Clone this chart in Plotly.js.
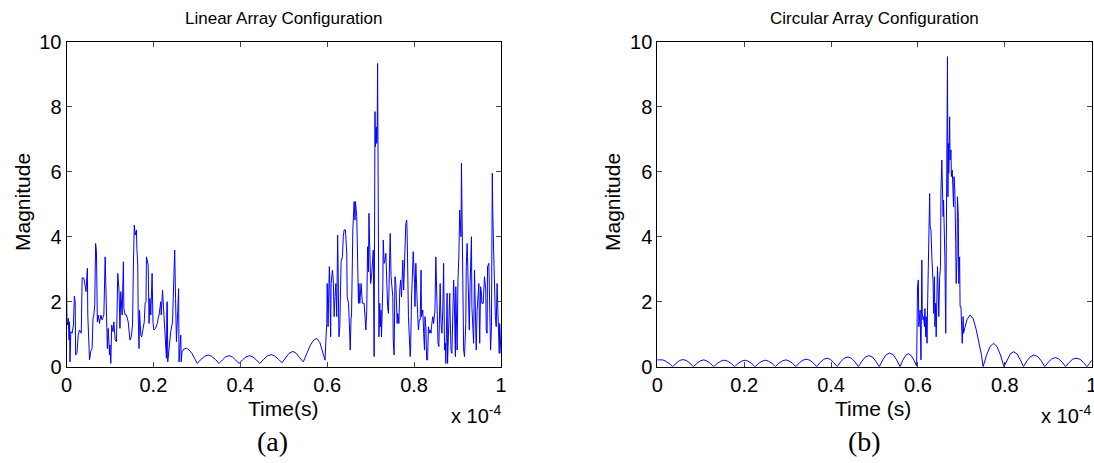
<!DOCTYPE html>
<html>
<head>
<meta charset="utf-8">
<script src="https://cdn.plot.ly/plotly-3.0.1.min.js"></script>
<style>html,body{margin:0;padding:0;background:#fff;}#chart{width:1094px;height:463px;}</style>
</head>
<body>
<div id="chart"></div>
<script>
// Time in units of 1e-4 s
const linearTime = [
0.000,0.001,0.003,0.004,0.006,0.007,0.008,0.010,0.013,0.016,0.018,0.020,0.021,0.024,0.027,0.030,0.034,0.036,0.040,0.043,
0.045,0.048,0.049,0.053,0.056,0.059,0.061,0.063,0.065,0.067,0.069,0.071,0.073,0.076,0.079,0.082,0.086,0.089,0.092,0.094,
0.096,0.099,0.100,0.102,0.104,0.107,0.109,0.112,0.115,0.118,0.121,0.123,0.125,0.128,0.131,0.132,0.135,0.138,0.142,0.144,
0.146,0.149,0.152,0.154,0.156,0.158,0.161,0.162,0.164,0.165,0.167,0.168,0.171,0.173,0.177,0.179,0.181,0.183,0.184,0.187,
0.188,0.190,0.192,0.194,0.197,0.199,0.201,0.205,0.209,0.211,0.213,0.217,0.218,0.221,0.223,0.225,0.227,0.230,0.231,0.232,
0.233,0.236,0.240,0.244,0.247,0.249,0.251,0.253,0.256,0.258,0.259,0.261,0.263,0.264,0.266,
0.270,0.276,0.282,0.289,0.295,0.301,
0.309,0.318,0.326,0.334,0.343,0.351,
0.359,0.366,0.374,0.382,0.389,0.397,
0.405,0.413,0.421,0.429,0.437,0.445,
0.454,0.462,0.471,0.479,0.488,0.496,
0.504,0.512,0.521,0.529,0.537,0.545,
0.553,0.561,0.569,0.576,0.583,0.589,0.595,
0.597,0.599,0.600,0.602,0.603,0.605,0.606,0.608,0.609,0.612,0.614,0.616,0.618,0.620,0.622,0.624,0.625,0.627,0.629,0.632,
0.635,0.637,0.639,0.642,0.645,0.646,0.649,0.651,0.653,0.655,0.656,0.659,0.660,0.662,0.664,0.665,0.668,0.670,0.672,0.673,
0.675,0.678,0.681,0.683,0.685,0.689,0.691,0.693,0.695,0.696,0.698,0.700,0.702,0.706,0.708,0.710,0.711,0.713,0.714,0.715,
0.716,0.718,0.719,0.721,0.722,0.724,0.725,0.728,0.729,0.731,0.733,0.735,0.738,0.739,0.741,0.743,0.745,0.747,0.748,0.751,
0.752,0.754,0.756,0.758,0.761,0.762,0.764,0.765,0.767,0.769,0.771,0.774,0.776,0.778,0.779,0.781,0.783,0.784,0.787,0.789,
0.791,0.792,0.794,0.797,0.798,0.801,0.802,0.804,0.806,0.808,0.810,0.812,0.814,0.816,0.817,0.820,0.822,0.824,0.825,0.827,
0.829,0.831,0.833,0.835,0.837,0.839,0.840,0.843,0.845,0.848,0.850,0.851,0.853,0.854,0.855,0.857,0.859,0.860,0.862,0.864,
0.866,0.868,0.870,0.872,0.873,0.874,0.876,0.877,0.880,0.882,0.883,0.885,0.887,0.890,0.891,0.893,0.895,0.896,0.899,0.901,
0.903,0.905,0.906,0.908,0.909,0.911,0.913,0.914,0.916,0.919,0.920,0.922,0.923,0.926,0.927,0.929,0.932,0.933,0.936,0.937,
0.939,0.941,0.943,0.945,0.947,0.949,0.951,0.953,0.955,0.956,0.959,0.961,0.962,0.965,0.966,0.968,0.969,0.972,0.974,0.976,
0.978,0.980,0.981,0.983,0.985,0.987,0.989,0.991,0.993,0.994,0.996,0.997,0.999,1.000
];
const linearMagnitude = [
2.97,1.44,1.28,1.49,0.82,1.38,0.15,1.08,1.03,1.28,2.17,2.00,0.36,0.41,0.97,1.13,1.03,2.74,2.72,2.46,
2.31,3.03,1.59,0.21,0.48,0.56,1.49,1.59,1.90,3.79,3.54,1.38,1.59,1.33,1.59,1.44,1.59,3.38,1.28,0.56,
1.18,0.36,0.67,0.10,1.28,1.08,1.38,0.82,0.77,2.87,2.31,1.18,2.31,1.59,3.23,1.79,1.59,1.59,1.38,1.08,
0.82,0.92,1.28,3.13,4.36,4.05,4.21,3.64,3.13,1.59,0.56,1.74,0.97,0.92,1.28,1.38,1.95,2.00,3.38,3.18,
3.13,1.33,2.10,1.59,2.87,1.38,1.13,1.18,1.33,1.49,1.59,2.00,1.59,2.36,1.85,1.69,0.77,0.26,1.95,2.00,
0.15,0.56,1.08,1.38,2.51,3.59,2.10,0.77,1.69,2.40,0.15,0.56,0.97,0.15,0.46,
0.54,0.57,0.52,0.40,0.25,0.10,
0.22,0.32,0.36,0.32,0.22,0.10,
0.21,0.30,0.34,0.30,0.21,0.10,
0.21,0.30,0.34,0.30,0.21,0.10,
0.23,0.33,0.37,0.33,0.23,0.12,
0.27,0.41,0.47,0.41,0.27,0.15,
0.40,0.66,0.82,0.87,0.75,0.45,0.20,
0.82,1.33,2.56,1.23,1.95,3.08,2.56,0.92,2.56,2.97,2.67,1.54,2.15,2.56,1.54,4.05,3.18,0.92,1.23,3.23,
3.38,4.00,4.21,4.21,3.49,2.15,1.95,1.33,0.51,1.54,1.54,4.21,4.62,5.08,4.51,5.08,4.62,2.67,1.95,2.56,
1.95,2.56,1.95,1.95,1.95,1.13,1.74,3.69,2.92,4.72,3.59,2.56,2.77,3.59,0.31,7.85,6.77,7.38,6.87,7.08,
9.33,5.44,0.92,1.95,1.23,1.74,0.92,2.46,3.90,3.18,3.28,3.49,2.15,1.85,1.64,2.67,4.10,2.77,2.56,2.15,
0.82,0.36,2.77,2.56,1.33,1.64,1.54,1.33,2.36,2.67,2.15,3.28,2.36,3.59,3.90,4.41,4.51,4.10,1.54,0.92,
0.31,0.51,2.05,3.08,3.54,2.56,1.85,3.18,1.85,1.64,1.13,1.44,1.44,2.97,1.54,1.74,1.03,0.51,1.54,1.23,
0.21,0.21,1.23,1.03,1.13,1.03,1.23,1.54,1.33,1.74,3.38,2.67,2.15,0.92,0.72,0.62,1.74,2.56,1.33,1.03,
1.74,3.18,0.51,0.72,0.10,1.54,2.26,0.10,1.85,2.26,1.54,0.51,0.41,1.64,2.67,1.74,0.31,2.46,0.51,2.67,
3.38,4.82,4.31,4.00,6.26,4.41,1.54,0.51,0.31,1.33,3.08,3.79,3.38,1.23,1.13,2.56,4.00,1.85,1.03,0.72,
2.97,1.64,0.51,1.74,2.36,2.56,0.72,2.46,2.26,1.95,1.95,2.77,2.77,2.36,1.13,1.03,3.08,3.18,0.92,0.51,
1.23,5.95,4.82,3.59,2.05,1.54,1.23,2.56,1.64,0.82,0.41,1.33,0.51,0.40
];

const circularTime = [
0.000,0.006,0.012,0.018,0.024,0.030,0.035,
0.043,0.051,0.059,0.067,0.075,0.083,
0.091,0.099,0.107,0.114,0.122,0.130,
0.138,0.146,0.154,0.162,0.170,0.178,
0.186,0.194,0.202,0.209,0.217,0.225,
0.233,0.241,0.249,0.256,0.264,0.272,
0.280,0.288,0.296,0.303,0.311,0.319,
0.327,0.335,0.343,0.351,0.359,0.367,
0.375,0.383,0.391,0.398,0.406,0.414,
0.422,0.430,0.439,0.447,0.455,0.463,
0.471,0.479,0.487,0.495,0.503,0.511,
0.519,0.527,0.535,0.543,0.551,0.559,
0.565,0.572,0.578,0.584,0.591,0.597,
0.599,0.601,0.602,0.604,0.605,0.607,0.609,0.610,0.612,0.613,0.615,0.616,0.618,0.619,0.621,0.622,0.624,0.626,0.627,0.628,
0.630,0.632,0.633,0.635,0.636,0.638,0.639,0.641,0.642,0.644,0.645,0.647,0.648,0.650,0.652,0.653,0.655,0.656,0.658,0.659,
0.661,0.662,0.664,0.665,0.667,0.668,0.669,0.670,0.671,0.673,0.674,0.676,0.677,0.679,0.680,0.682,0.683,0.685,0.687,0.688,
0.690,0.691,0.693,0.694,0.696,0.697,0.699,0.700,0.702,0.704,0.705,
0.708,0.713,0.720,0.727,0.734,0.741,0.746,0.750,
0.758,0.766,0.774,0.782,0.790,0.798,
0.806,0.813,0.820,0.828,0.835,0.843,
0.851,0.859,0.867,0.876,0.884,0.892,
0.900,0.908,0.916,0.924,0.932,0.940,
0.948,0.956,0.964,0.973,0.981,0.989,
0.995,1.000
];
const circularMagnitude = [
0.21,0.22,0.21,0.18,0.13,0.07,0.00,
0.11,0.19,0.22,0.19,0.11,0.00,
0.10,0.18,0.21,0.18,0.10,0.00,
0.10,0.17,0.20,0.17,0.10,0.00,
0.10,0.17,0.20,0.17,0.10,0.00,
0.10,0.17,0.20,0.17,0.10,0.00,
0.11,0.18,0.21,0.18,0.11,0.00,
0.12,0.20,0.23,0.20,0.12,0.00,
0.13,0.23,0.26,0.23,0.13,0.00,
0.15,0.26,0.30,0.26,0.15,0.00,
0.17,0.30,0.34,0.30,0.17,0.00,
0.21,0.37,0.42,0.37,0.21,0.00,
0.20,0.35,0.40,0.35,0.20,0.02,
2.46,2.67,1.23,1.54,1.74,0.21,3.28,1.64,1.44,1.54,1.23,1.79,0.92,1.54,0.72,1.74,2.97,4.31,5.33,4.31,
4.21,3.38,3.18,2.56,1.64,2.77,1.23,1.95,0.92,2.56,3.08,2.15,1.54,2.77,3.08,5.44,6.36,5.74,4.62,5.13,
4.10,3.38,1.03,4.00,8.41,9.54,5.23,6.87,5.95,7.69,6.36,6.67,5.85,6.05,5.23,4.92,5.85,5.44,3.79,2.56,
3.38,5.23,4.62,2.56,3.38,1.85,1.85,1.54,0.72,1.54,1.03,
1.20,1.45,1.59,1.48,1.15,0.75,0.38,0.00,
0.36,0.62,0.72,0.62,0.36,0.00,
0.23,0.40,0.46,0.40,0.23,0.00,
0.18,0.31,0.36,0.31,0.18,0.00,
0.14,0.24,0.28,0.24,0.14,0.00,
0.13,0.23,0.26,0.23,0.13,0.00,
0.10,0.20
];

const xTickVals = [0, 0.2, 0.4, 0.6, 0.8, 1];
const xTickText = ['0', '0.2', '0.4', '0.6', '0.8', '1'];
const yTickVals = [0, 2, 4, 6, 8, 10];
const panelTitles = ['Linear Array Configuration', 'Circular Array Configuration'];
const xLabels = ['Time(s)', 'Time (s)'];
const yLabel = 'Magnitude';
const panelTags = ['(a)', '(b)'];

const W = 1094, H = 463;
const FONT = 'Arial, "Liberation Sans", sans-serif';
const SERIF = '"Liberation Serif", "Times New Roman", serif';
const px = v => v / W;
const py = v => 1 - v / H;

function axisX(dom, anchor) {
  return {
    domain: dom, anchor: anchor, range: [0, 1], tickvals: xTickVals, ticktext: xTickText,
    ticks: 'inside', ticklen: 5, tickwidth: 1, tickcolor: '#444', mirror: 'ticks',
    showline: true, linecolor: '#000', linewidth: 1, showgrid: false, zeroline: false,
    ticklabeloverflow: 'allow',
    tickfont: {family: FONT, size: 20, color: '#000'}, fixedrange: true
  };
}
function axisY(dom, anchor) {
  return {
    domain: dom, anchor: anchor, range: [0, 10], tickvals: yTickVals,
    ticks: 'inside', ticklen: 5, tickwidth: 1, tickcolor: '#444', mirror: 'ticks',
    showline: true, linecolor: '#000', linewidth: 1, showgrid: false, zeroline: false,
    ticklabeloverflow: 'allow',
    tickfont: {family: FONT, size: 20, color: '#000'}, fixedrange: true
  };
}

const yDom = [py(366.7), py(41.7)];
const traces = [
  {x: linearTime, y: linearMagnitude, xaxis: 'x', yaxis: 'y', type: 'scatter', mode: 'lines',
   line: {color: '#0000ff', width: 1}, hoverinfo: 'skip'},
  {x: circularTime, y: circularMagnitude, xaxis: 'x2', yaxis: 'y2', type: 'scatter', mode: 'lines',
   line: {color: '#0000ff', width: 1}, hoverinfo: 'skip'}
];

function ann(text, x, y, size, opts) {
  return Object.assign({text: text, x: x, y: y, xref: 'paper', yref: 'paper', showarrow: false,
    xanchor: 'center', yanchor: 'middle', font: {family: FONT, size: size, color: '#000'}}, opts || {});
}

const layout = {
  width: W, height: H, margin: {l: 0, r: 0, t: 0, b: 0},
  paper_bgcolor: '#fff', plot_bgcolor: '#fff', showlegend: false,
  xaxis: axisX([px(66.5), px(501)], 'y'),
  yaxis: axisY(yDom, 'x'),
  xaxis2: axisX([px(657.3), px(1091.7)], 'y2'),
  yaxis2: axisY(yDom, 'x2'),
  annotations: [
    ann(panelTitles[0], px(283.7), py(18), 17),
    ann(panelTitles[1], px(874.5), py(18), 17),
    ann(yLabel, px(22), py(202), 21, {textangle: -90}),
    ann(yLabel, px(612), py(202), 21, {textangle: -90}),
    ann(xLabels[0], px(283), py(408), 21),
    ann(xLabels[1], px(873), py(408), 21),
    ann('x 10<sup>-4</sup>', px(449), py(414), 20, {xanchor: 'left'}),
    ann('x 10<sup>-4</sup>', px(1039), py(414), 20, {xanchor: 'left'}),
    ann(panelTags[0], px(272), py(441), 28, {font: {family: SERIF, size: 28, color: '#000'}}),
    ann(panelTags[1], px(864), py(441), 28, {font: {family: SERIF, size: 28, color: '#000'}})
  ]
};

Plotly.newPlot('chart', traces, layout, {staticPlot: true, displayModeBar: false});
</script>
</body>
</html>
